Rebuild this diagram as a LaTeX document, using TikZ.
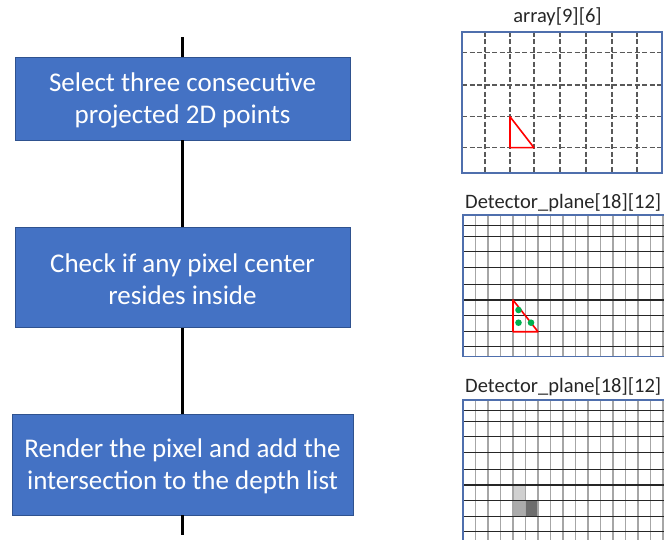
\documentclass[tikz,border=0pt]{standalone}
\usepackage{fontspec}
\setmainfont{Carlito}
\definecolor{boxblue}{HTML}{4472C4}
\definecolor{boxedge}{HTML}{2F528F}
\definecolor{frameblue}{HTML}{4F6FAD}
\definecolor{dotgreen}{HTML}{00B050}
\definecolor{shadeA}{HTML}{D0D0D0}
\definecolor{shadeB}{HTML}{ABABAB}
\definecolor{shadeC}{HTML}{6E6E6E}

% detector grid whose top edge sits at y = #1
\newcommand\detgrid[1]{%
  \foreach \x in {475.5,488,...,688}
    \draw[vline] (\x,#1) -- (\x,{#1+141.7});
  \foreach \d in {10.7,21.7,36.7,52.7,69.3,85,100.7,116.7,131.7}
    \draw[hline] (463,{#1+\d}) -- (690,{#1+\d});
  \draw[frame] (690,#1) -- (463,#1) -- (463,{#1+141.7}) -- (690,{#1+141.7});
}

\begin{document}
\begin{tikzpicture}[x=1bp,y=-1bp,
  stepbox/.style={draw=boxedge, line width=0.8bp, fill=boxblue, text=white,
    font=\fontsize{27bp}{32bp}\selectfont, align=center, inner sep=0pt},
  flowline/.style={line width=2.2bp, black},
  title/.style={font=\fontsize{20.5bp}{22bp}\selectfont, text=black!85, inner sep=0pt},
  frame/.style={draw=frameblue, line width=1.5bp},
  dashline/.style={draw=black!65, line width=1.1bp, dash pattern=on 5bp off 2.5bp},
  vline/.style={draw=gray!70, line width=1.7bp},
  hline/.style={draw=black!85, line width=1.2bp},
  tri/.style={draw=red, line width=1.6bp, line join=round},
  dot/.style={fill=dotgreen}]
\useasboundingbox (0,0) rectangle (664,540);
\clip (0,0) rectangle (664,540);

% flow chart
\node[stepbox, minimum width=335bp, minimum height=82.7bp] (s1) at (182.5,98.7)
  {\strut Select three consecutive\\projected 2D points};
\node[stepbox, minimum width=335bp, minimum height=100bp] (s2) at (182.5,277.7)
  {\strut Check if any pixel center\\resides inside};
\node[stepbox, minimum width=341bp, minimum height=100.7bp] (s3) at (182.5,464.7)
  {\strut Render the pixel and add the\\intersection to the depth list};
\coordinate (top) at (182.5,37.3);
\coordinate (bot) at (182.5,535);
\draw[flowline] (top) -- (s1.north);
\draw[flowline] (s1.south) -- (s2.north);
\draw[flowline] (s2.south) -- (s3.north);
\draw[flowline] (s3.south) -- (bot);

% coarse array
\node[title] (t1) at (557.5,16.7) {array[9][6]};
\foreach \x in {485,510,534,560,586,612,637}
  \draw[dashline] (\x,32) -- (\x,173);
\foreach \y in {52.7,85,116.7,147.7}
  \draw[dashline] (462,\y) -- (662,\y);
\draw[frame] (462,32) rectangle (662,173);
\draw[tri] (510,116.7) -- (510,147.7) -- (534,147.7) -- cycle;

% detector plane with the triangle and the pixel centres inside it
\node[title, anchor=west] (t2) at (465,203) {Detector\_plane[18][12]};
\detgrid{215}
\draw[tri] (513,300) -- (513,331.7) -- (538,331.7) -- cycle;
\fill[dot] (518.5,310) circle (3.3);
\fill[dot] (518.5,322.7) circle (3.3);
\fill[dot] (531,322.7) circle (3.3);

% detector plane with the rendered pixels
\node[title, anchor=west] (t3) at (465,387) {Detector\_plane[18][12]};
\fill[shadeA] (513,484.3) rectangle (525.5,500);
\fill[shadeB] (513,500) rectangle (525.5,516);
\fill[shadeC] (525.5,500) rectangle (538,516);
\detgrid{400}
\end{tikzpicture}
\end{document}
